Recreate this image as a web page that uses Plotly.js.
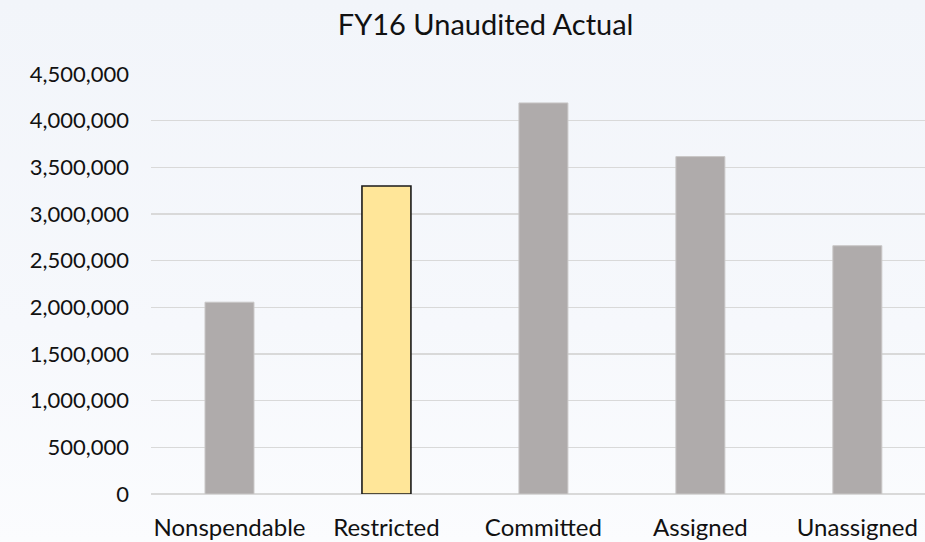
<!DOCTYPE html>
<html>
<head>
<meta charset="utf-8">
<script src="https://cdn.plot.ly/plotly-3.0.1.min.js"></script>
<style>
html, body { margin: 0; padding: 0; }
body { width: 925px; height: 542px; background: linear-gradient(to bottom, #F2F5FA 0%, #F6F8FC 60%, #FBFCFE 100%); }
#chart { width: 925px; height: 542px; }
</style>
</head>
<body>
<div id="chart"></div>
<script>
const categories = ["Nonspendable", "Restricted", "Committed", "Assigned", "Unassigned"];
const values = [2055000, 3300000, 4190000, 3615000, 2660000];
const highlighted = "Restricted";
const tickValues = [0, 500000, 1000000, 1500000, 2000000, 2500000, 3000000, 3500000, 4000000, 4500000];

const fillColors = categories.map(c => c === highlighted ? "#FFE699" : "#AFABAB");
const lineColors = categories.map(c => c === highlighted ? "#1A1A1A" : "#C9C7C7");
const lineWidths = categories.map(c => c === highlighted ? 1.6 : 1);

const font = "Lato, 'Open Sans', sans-serif";

const data = [{
  type: "bar",
  x: categories,
  y: values,
  width: 0.312,
  marker: { color: fillColors, line: { color: lineColors, width: lineWidths } },
  hoverinfo: "x+y"
}];

const layout = {
  width: 925,
  height: 542,
  paper_bgcolor: "rgba(0,0,0,0)",
  plot_bgcolor: "rgba(0,0,0,0)",
  margin: { l: 151, r: 0, t: 74, b: 48 },
  showlegend: false,
  title: {
    text: "FY16 Unaudited Actual",
    font: { family: font, size: 29, color: "#111111" },
    x: 0.525, xref: "container", xanchor: "center",
    y: 0.955, yref: "container", yanchor: "middle"
  },
  xaxis: {
    type: "category",
    range: [-0.5, 4.431],
    showgrid: false,
    zeroline: false,
    showline: false,
    ticks: "",
    ticklabelstandoff: 17,
    tickfont: { family: font, size: 24, color: "#111111" },
    fixedrange: true
  },
  yaxis: {
    range: [0, 4500000],
    tickvals: tickValues,
    tickformat: ",d",
    showgrid: true,
    gridcolor: "#D9D9D9",
    gridwidth: 1.5,
    zeroline: true,
    zerolinecolor: "#D9D9D9",
    zerolinewidth: 1.5,
    showline: false,
    ticks: "",
    ticklabelstandoff: 21,
    tickfont: { family: font, size: 22, color: "#111111" },
    fixedrange: true
  },
  bargap: 0.69
};

Plotly.newPlot("chart", data, layout, { displayModeBar: false, staticPlot: true });
</script>
</body>
</html>
